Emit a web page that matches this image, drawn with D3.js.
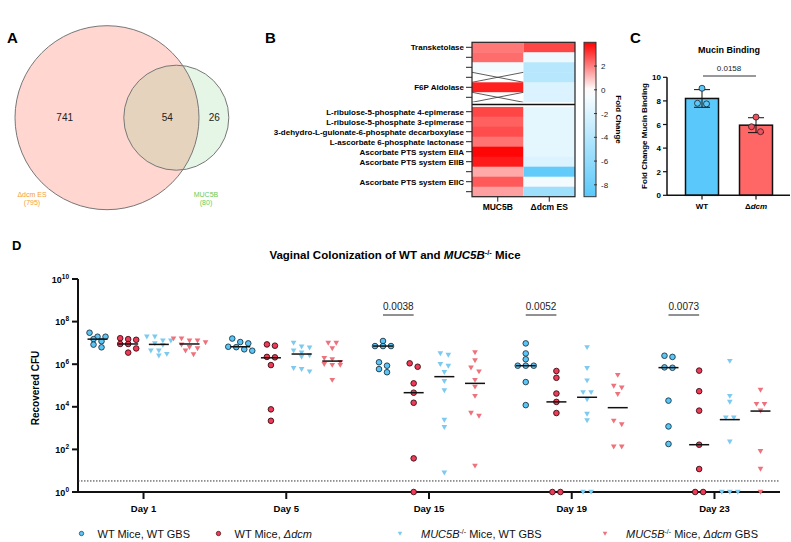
<!DOCTYPE html>
<html><head><meta charset="utf-8">
<script src="https://cdn.jsdelivr.net/npm/d3@7"></script>
<style>body{margin:0;background:#fff}svg{display:block}</style>
</head><body>
<svg id="c" width="791" height="542"></svg>
<script>
// ---------------- DATA ----------------
// Panel A (Venn)
const vennLabels = ["Δdcm ES", "MUC5B"];
const vennTotals = [795, 80];
const vennRegions = [741, 54, 26];

// Panel B (heatmap)
const heatRows = ["Transketolase", "", "", "", "F6P Aldolase", "",
  "L-ribulose-5-phosphate 4-epimerase", "L-ribulose-5-phosphate 3-epimerase",
  "3-dehydro-L-gulonate-6-phosphate decarboxylase", "L-ascorbate 6-phosphate lactonase",
  "Ascorbate PTS system EIIA", "Ascorbate PTS system EIIB", "", "Ascorbate PTS system EIIC", ""];
const heatCols = ["MUC5B", "Δdcm ES"];
const heatMUC5B = [2.1, 2.3, -0.6, null, 3.5, null, 2.9, 2.5, 2.8, 2.2, 3.9, 3.6, 1.35, 2.6, 1.5];
const heatDcm = [2.9, -1.0, -4.0, -4.0, -2.0, -2.0, -1.5, -1.5, -1.5, -1.5, -1.5, -2.0, -8.5, -0.6, -5.3];
const colorTicks = [2, 0, -2, -4, -6, -8];
const colorDomain = [-9, 0, 4];

// Panel C (mucin binding)
const mucinGroups = ["WT", "Δdcm"];
const mucinWT = [9.07, 7.8, 7.75];
const mucinDcm = [6.63, 5.81, 5.39];
const mucinTicks = [0, 2, 4, 6, 8, 10];
const mucinP = "0.0158";

// Panel D (colonization)
const days = ["Day 1", "Day 5", "Day 15", "Day 19", "Day 23"];
const groupNames = ["WT Mice, WT GBS", "WT Mice, Δdcm", "MUC5B-/- Mice, WT GBS", "MUC5B-/- Mice, Δdcm GBS"];
const wtWT = [
  [3.0e7, 1.95e7, 1.95e7, 1.5e7, 1.2e7, 8.3e6, 6.2e6],
  [1.6e7, 1.1e7, 9.5e6, 6.6e6, 6.3e6, 5.0e6, 4.3e6],
  [1.23e7, 7.1e6, 7.1e6, 7.1e6, 1.23e6, 8.5e5, 5.9e5, 4.2e5],
  [9.5e6, 3.2e6, 1.7e6, 8.5e5, 8.5e5, 8.5e5, 1.45e5, 1.2e4],
  [2.5e6, 2.2e6, 7.1e5, 6.8e5, 1.95e4, 1.2e3, 180]
];
const wtDcm = [
  [1.66e7, 1.5e7, 1.4e7, 8.9e6, 8.9e6, 5.5e6, 3.5e6],
  [8.5e6, 7.4e6, 2.2e6, 2.1e6, 9.1e5, 7.6e3, 2.2e3],
  [1.1e6, 7.6e5, 1.26e5, 4.6e4, 1.55e4, 38, 1],
  [4.8e5, 2.3e5, 4.2e4, 1.7e4, 5.1e3, 1, 1],
  [5.0e5, 5.4e4, 6.6e3, 166, 12, 1, 1]
];
const mucWT = [
  [1.95e7, 1.95e7, 1.26e7, 1.26e7, 9.5e6, 7.9e6, 4.3e6, 4.3e6, 3.0e6, 2.5e6],
  [1.0e7, 6.6e6, 6.0e6, 4.3e6, 3.5e6, 2.6e6, 2.2e6, 6.5e5, 5.8e5, 4.5e5],
  [3.2e6, 2.7e6, 1.0e6, 8.3e5, 4.2e5, 1.6e5, 5.9e4, 2.4e3, 1.1e3, 8.1],
  [6.2e6, 6.5e5, 1.7e5, 4.8e4, 4.8e4, 2.2e4, 4.6e3, 2.3e3, 1, 1],
  [1.4e6, 3.2e4, 1.7e4, 3.1e3, 3.1e3, 230, 1, 1, 1]
];
const mucDcm = [
  [1.6e7, 1.6e7, 1.26e7, 1.26e7, 1.05e7, 8.3e6, 6.3e6, 5.5e6, 4.3e6, 2.9e6],
  [1.0e7, 1.0e7, 5.5e6, 1.9e6, 1.7e6, 1.26e6, 1.0e6, 9.1e5, 9.1e5, 1.8e5],
  [3.6e6, 1.5e6, 6.9e5, 4.5e5, 1.8e5, 8.7e4, 3.2e4, 5.2e3, 3.7e3, 17],
  [3.1e5, 9.5e4, 7.9e4, 3.9e4, 2.2e3, 1.5e3, 135, 135],
  [6.2e4, 1.35e4, 1.35e4, 6.6e3, 83, 12, 1]
];
const medWT = [1.5e7, 6.6e6, 7.1e6, 8.5e5, 6.9e5];
const medWTDcm = [8.9e6, 2.0e6, 4.6e4, 1.7e4, 166];
const medMucWT = [8.5e6, 3.0e6, 2.6e5, 2.8e4, 2.5e3];
const medMucDcm = [8.9e6, 1.4e6, 1.26e5, 9.1e3, 6.3e3];
const sigDays = ["Day 15", "Day 19", "Day 23"];
const sigP = ["0.0038", "0.0052", "0.0073"];
const yTicksD = [1, 1e2, 1e4, 1e6, 1e8, 1e10];
const detectionLimit = 3.3;

// ---------------- DRAW ----------------
const FONT = "'Liberation Sans', Arial, Helvetica, sans-serif";
const svg = d3.select("#c").style("font-family", FONT);

function letter(t, x, y, size) {
  svg.append("text").attr("x", x).attr("y", y).attr("font-size", size)
    .attr("font-weight", "bold").text(t);
}
letter("A", 7, 43, 15);
letter("B", 265, 43, 15);
letter("C", 630, 43, 15);
letter("D", 12, 250, 13);

// ---- Panel A
(function () {
  const g = svg.append("g");
  const big = {x: 107, y: 117.7, r: 92};
  const small = {x: 176.3, y: 117.7, r: 52.5};
  g.append("circle").attr("cx", big.x).attr("cy", big.y).attr("r", big.r)
    .attr("fill", "rgb(255,120,100)").attr("fill-opacity", 0.3);
  g.append("circle").attr("cx", small.x).attr("cy", small.y).attr("r", small.r)
    .attr("fill", "rgb(100,200,100)").attr("fill-opacity", 0.16);
  [big, small].forEach(c => g.append("circle").attr("cx", c.x).attr("cy", c.y).attr("r", c.r)
    .attr("fill", "none").attr("stroke", "#777").attr("stroke-width", 1));
  const regX = [64.7, 167.3, 214.3];
  vennRegions.forEach((v, i) => g.append("text").attr("x", regX[i]).attr("y", 121)
    .attr("text-anchor", "middle").attr("font-size", 10).attr("fill", "#222").text(v));
  const labX = [32, 206];
  const labC = ["#f5a033", "#66cc5a"];
  vennLabels.forEach((l, i) => {
    g.append("text").attr("x", labX[i]).attr("y", 197).attr("text-anchor", "middle")
      .attr("font-size", 7).attr("fill", labC[i]).text(l);
    g.append("text").attr("x", labX[i]).attr("y", 205).attr("text-anchor", "middle")
      .attr("font-size", 7).attr("fill", labC[i]).text("(" + vennTotals[i] + ")");
  });
})();

// ---- Panel B
(function () {
  const g = svg.append("g");
  const top = 42.3, rowH = 10, gap = 4.4, nUpper = 6;
  const x = d3.scaleBand().domain(heatCols).range([472, 575]);
  const idx = d3.range(heatRows.length);
  const yb = d3.scaleBand().domain(idx).range([top, top + rowH * heatRows.length]);
  const yr = i => yb(i) + (i >= nUpper ? gap : 0);
  const bottom = yr(heatRows.length - 1) + rowH;
  const color = d3.scaleLinear().domain(colorDomain).range(["#5ac8fa", "#ffffff", "#ff0000"]).clamp(true);
  const series = [heatMUC5B, heatDcm];
  series.forEach((s, c) => {
    s.forEach((v, i) => {
      const cx = x(heatCols[c]), cy = yr(i);
      g.append("rect").attr("x", cx).attr("y", cy).attr("width", x.bandwidth()).attr("height", rowH + 0.4)
        .attr("fill", v == null ? "#fff" : color(v));
      if (v == null) {
        g.append("line").attr("x1", cx).attr("y1", cy).attr("x2", cx + x.bandwidth()).attr("y2", cy + rowH)
          .attr("stroke", "#333").attr("stroke-width", 0.8);
        g.append("line").attr("x1", cx).attr("y1", cy + rowH).attr("x2", cx + x.bandwidth()).attr("y2", cy)
          .attr("stroke", "#333").attr("stroke-width", 0.8);
      }
    });
  });
  g.append("rect").attr("x", 472).attr("y", yr(nUpper - 1) + rowH).attr("width", 103).attr("height", gap).attr("fill", "#fff");
  g.append("line").attr("x1", 472).attr("x2", 575).attr("y1", yr(nUpper - 1) + rowH + gap / 2).attr("y2", yr(nUpper - 1) + rowH + gap / 2)
    .attr("stroke", "#111").attr("stroke-width", 1.3);
  g.append("rect").attr("x", 472).attr("y", top).attr("width", 103).attr("height", bottom - top)
    .attr("fill", "none").attr("stroke", "#222").attr("stroke-width", 1.2);
  idx.forEach(i => {
    const cy = yr(i) + rowH / 2;
    g.append("line").attr("x1", 466).attr("x2", 472).attr("y1", cy).attr("y2", cy).attr("stroke", "#222").attr("stroke-width", 1);
    if (heatRows[i]) g.append("text").attr("x", 464).attr("y", cy + 2.8).attr("text-anchor", "end")
      .attr("font-size", 8).attr("font-weight", "bold").text(heatRows[i]);
  });
  heatCols.forEach(c => {
    const cx = x(c) + x.bandwidth() / 2;
    g.append("line").attr("x1", cx).attr("x2", cx).attr("y1", bottom).attr("y2", bottom + 5).attr("stroke", "#222");
    g.append("text").attr("x", cx).attr("y", 210).attr("text-anchor", "middle")
      .attr("font-size", 8.5).attr("font-weight", "bold").text(c);
  });
  const cb = d3.scaleLinear().domain([colorDomain[0], colorDomain[2]]).range([bottom, top]);
  const defs = svg.append("defs");
  const grad = defs.append("linearGradient").attr("id", "cbgrad").attr("x1", 0).attr("x2", 0).attr("y1", 1).attr("y2", 0);
  d3.range(0, 1.0001, 0.05).forEach(t => {
    const v = colorDomain[0] + t * (colorDomain[2] - colorDomain[0]);
    grad.append("stop").attr("offset", t).attr("stop-color", color(v));
  });
  g.append("rect").attr("x", 584).attr("y", top).attr("width", 12).attr("height", bottom - top)
    .attr("fill", "url(#cbgrad)").attr("stroke", "#333").attr("stroke-width", 1);
  colorTicks.forEach(t => {
    g.append("line").attr("x1", 594).attr("x2", 597).attr("y1", cb(t)).attr("y2", cb(t)).attr("stroke", "#333");
    g.append("text").attr("x", 601).attr("y", cb(t) + 3).attr("font-size", 8).attr("fill", "#222").text(t);
  });
  g.append("text").attr("transform", "translate(616," + ((top + bottom) / 2) + ") rotate(90)")
    .attr("text-anchor", "middle").attr("font-size", 8).attr("font-weight", "bold").text("Fold Change");
})();

// ---- Panel C
(function () {
  const g = svg.append("g");
  const y = d3.scaleLinear().domain([0, 10]).range([195.3, 77.3]);
  const x = d3.scalePoint().domain(mucinGroups).range([702, 756]);
  const bw = 33;
  const sets = [mucinWT, mucinDcm];
  const fills = ["#5ac8fa", "#ff6666"];
  const dots = ["#5ac8fa", "#f0505f"];
  sets.forEach((s, i) => {
    const m = d3.mean(s), sd = d3.deviation(s);
    const cx = x(mucinGroups[i]);
    g.append("rect").attr("x", cx - bw / 2).attr("y", y(m)).attr("width", bw).attr("height", y(0) - y(m))
      .attr("fill", fills[i]).attr("stroke", "#111").attr("stroke-width", 1.5);
    g.append("line").attr("x1", cx).attr("x2", cx).attr("y1", y(m + sd)).attr("y2", y(m - sd)).attr("stroke", "#111");
    [m + sd, m - sd].forEach(v => g.append("line").attr("x1", cx - 8).attr("x2", cx + 8)
      .attr("y1", y(v)).attr("y2", y(v)).attr("stroke", "#111"));
    const sorted = s.slice().sort((a, b) => b - a);
    const rows = [];
    sorted.forEach(v => {
      const last = rows[rows.length - 1];
      if (last && Math.abs(y(last[0]) - y(v)) < 5) last.push(v); else rows.push([v]);
    });
    rows.forEach(r => r.forEach((v, k) => {
      g.append("circle").attr("cx", cx + (k - (r.length - 1) / 2) * 9).attr("cy", y(v)).attr("r", 3)
        .attr("fill", dots[i]).attr("stroke", "#222").attr("stroke-width", 0.8);
    }));
    g.append("line").attr("x1", cx).attr("x2", cx).attr("y1", 195.3).attr("y2", 199.5).attr("stroke", "#111").attr("stroke-width", 1.2);
  });
  const ax = g.append("g");
  ax.append("line").attr("x1", 667).attr("x2", 667).attr("y1", y(10)).attr("y2", y(0)).attr("stroke", "#111").attr("stroke-width", 1.5);
  ax.append("line").attr("x1", 667).attr("x2", 790).attr("y1", y(0)).attr("y2", y(0)).attr("stroke", "#111").attr("stroke-width", 1.5);
  mucinTicks.forEach(t => {
    ax.append("line").attr("x1", 663).attr("x2", 667).attr("y1", y(t)).attr("y2", y(t)).attr("stroke", "#111").attr("stroke-width", 1.2);
    ax.append("text").attr("x", 661).attr("y", y(t) + 3).attr("text-anchor", "end").attr("font-size", 8)
      .attr("font-weight", "bold").text(t);
  });
  g.append("text").attr("x", x("WT")).attr("y", 209).attr("text-anchor", "middle").attr("font-size", 8)
    .attr("font-weight", "bold").text("WT");
  const t2 = g.append("text").attr("x", x("Δdcm")).attr("y", 209).attr("text-anchor", "middle").attr("font-size", 8)
    .attr("font-weight", "bold");
  t2.append("tspan").text("Δ");
  t2.append("tspan").attr("font-style", "italic").text("dcm");
  g.append("text").attr("x", 729).attr("y", 53).attr("text-anchor", "middle").attr("font-size", 9)
    .attr("font-weight", "bold").text("Mucin Binding");
  g.append("line").attr("x1", x("WT") + 1).attr("x2", x("Δdcm")).attr("y1", 76).attr("y2", 76).attr("stroke", "#333");
  g.append("text").attr("x", 729).attr("y", 71).attr("text-anchor", "middle").attr("font-size", 8).attr("fill", "#222").text(mucinP);
  g.append("text").attr("transform", "translate(647,136) rotate(-90)").attr("text-anchor", "middle")
    .attr("font-size", 8).attr("font-weight", "bold").text("Fold Change Mucin Binding");
})();

// ---- Panel D
(function () {
  const g = svg.append("g");
  const y = d3.scaleLog().domain([1, 1e10]).range([492, 279]);
  const x = d3.scalePoint().domain(days).range([78, 780]).padding(0.459);
  const off = d3.scalePoint().domain(groupNames).range([-46, 46]);
  const data = [wtWT, wtDcm, mucWT, mucDcm];
  const meds = [medWT, medWTDcm, medMucWT, medMucDcm];
  const fill = ["#5bc6f5", "#ef3a58", "#7dcaf0", "#ee727c"];
  const stroke = ["#1d3646", "#3b0d14", "none", "none"];
  const shape = ["circle", "circle", "tri", "tri"];
  const tri = d3.symbol().type(d3.symbolTriangle).size(14);

  g.append("line").attr("x1", 78).attr("x2", 78).attr("y1", y(1e10)).attr("y2", y(1)).attr("stroke", "#111").attr("stroke-width", 2);
  yTicksD.forEach(t => {
    g.append("line").attr("x1", 72).attr("x2", 78).attr("y1", y(t)).attr("y2", y(t)).attr("stroke", "#111").attr("stroke-width", 2);
    const tx = g.append("text").attr("x", 69).attr("y", y(t) + 3.5).attr("text-anchor", "end")
      .attr("font-size", 9).attr("font-weight", "bold");
    tx.append("tspan").text("10");
    tx.append("tspan").attr("dy", -4).attr("font-size", 6.5).text(Math.round(Math.log10(t)));
  });
  g.append("line").attr("x1", 78).attr("x2", 780).attr("y1", y(detectionLimit)).attr("y2", y(detectionLimit))
    .attr("stroke", "#333").attr("stroke-width", 1).attr("stroke-dasharray", "1.5,1.5");

  function mark(gi, px, py) {
    if (shape[gi] === "circle") {
      g.append("circle").attr("cx", px).attr("cy", py).attr("r", 2.8)
        .attr("fill", fill[gi]).attr("stroke", stroke[gi]).attr("stroke-width", 0.9);
    } else {
      g.append("path").attr("d", tri).attr("transform", "translate(" + px + "," + (py - 0.5) + ") rotate(180)")
        .attr("fill", fill[gi]);
    }
  }

  data.forEach((series, gi) => {
    series.forEach((vals, di) => {
      const cx = x(days[di]) + off(groupNames[gi]);
      const pts = vals.filter(v => v > 1).map(v => ({v, py: y(v)})).sort((a, b) => a.py - b.py);
      const rows = [];
      pts.forEach(p => {
        const last = rows[rows.length - 1];
        if (last && p.py - last[0].py < 5) last.push(p); else rows.push([p]);
      });
      rows.forEach(r => r.forEach((p, k) => { p.px = cx + (k - (r.length - 1) / 2) * 8; }));
      pts.forEach(p => mark(gi, p.px, p.py));
      const my = y(meds[gi][di]);
      g.append("line").attr("x1", cx - 10).attr("x2", cx + 10).attr("y1", my).attr("y2", my)
        .attr("stroke", "#111").attr("stroke-width", 1.5);
    });
  });
  g.append("line").attr("x1", 77).attr("x2", 780).attr("y1", y(1)).attr("y2", y(1)).attr("stroke", "#111").attr("stroke-width", 2);
  data.forEach((series, gi) => series.forEach((vals, di) => {
    const cx = x(days[di]) + off(groupNames[gi]);
    const zeros = vals.filter(v => v <= 1);
    zeros.forEach((v, k) => mark(gi, cx + (k - (zeros.length - 1) / 2) * 8, y(v)));
  }));
  days.forEach(d => {
    g.append("line").attr("x1", x(d)).attr("x2", x(d)).attr("y1", 492).attr("y2", 499).attr("stroke", "#111").attr("stroke-width", 2);
    g.append("text").attr("x", x(d)).attr("y", 512).attr("text-anchor", "middle").attr("font-size", 9.5)
      .attr("font-weight", "bold").text(d);
  });
  sigDays.forEach((d, i) => {
    const x1 = x(d) + off(groupNames[0]), x2 = x(d) + off(groupNames[1]);
    g.append("line").attr("x1", x1).attr("x2", x2).attr("y1", 315).attr("y2", 315).attr("stroke", "#222").attr("stroke-width", 1);
    g.append("text").attr("x", (x1 + x2) / 2).attr("y", 309.5).attr("text-anchor", "middle").attr("font-size", 10)
      .attr("fill", "#222").text(sigP[i]);
  });
  g.append("text").attr("transform", "translate(39,388) rotate(-90)").attr("text-anchor", "middle")
    .attr("font-size", 10).attr("font-weight", "bold").text("Recovered CFU");
  const tt = g.append("text").attr("x", 395).attr("y", 259).attr("text-anchor", "middle")
    .attr("font-size", 11.5).attr("font-weight", "bold");
  tt.append("tspan").text("Vaginal Colonization of WT and ");
  tt.append("tspan").attr("font-style", "italic").text("MUC5B");
  tt.append("tspan").attr("dy", -4.5).attr("font-size", 7.5).text("-/-");
  tt.append("tspan").attr("dy", 4.5).text(" Mice");

  const legX = [81.5, 218.5, 400, 605];
  const ly = 533.5;
  groupNames.forEach((name, gi) => {
    if (shape[gi] === "circle") g.append("circle").attr("cx", legX[gi]).attr("cy", ly).attr("r", 2.2)
      .attr("fill", fill[gi]).attr("stroke", stroke[gi]).attr("stroke-width", 0.7);
    else g.append("path").attr("d", d3.symbol().type(d3.symbolTriangle).size(9))
      .attr("transform", "translate(" + legX[gi] + "," + (ly - 0.5) + ") rotate(180)").attr("fill", fill[gi]);
    const t = g.append("text").attr("x", legX[gi] + (gi < 2 ? 16 : 21)).attr("y", ly + 4).attr("font-size", 11).attr("fill", "#111");
    const m = name.match(/^(MUC5B)-\/-(.*)$/);
    let rest = name;
    if (m) {
      t.append("tspan").attr("font-style", "italic").text("MUC5B");
      t.append("tspan").attr("dy", -4).attr("font-size", 7).text("-/-");
      rest = m[2];
    }
    const parts = rest.split("Δdcm");
    parts.forEach((p, k) => {
      const s = t.append("tspan").text(p);
      if (m && k === 0) s.attr("dy", 4);
      if (k < parts.length - 1) t.append("tspan").attr("font-style", "italic").text("Δdcm");
    });
  });
})();
</script>
</body></html>
